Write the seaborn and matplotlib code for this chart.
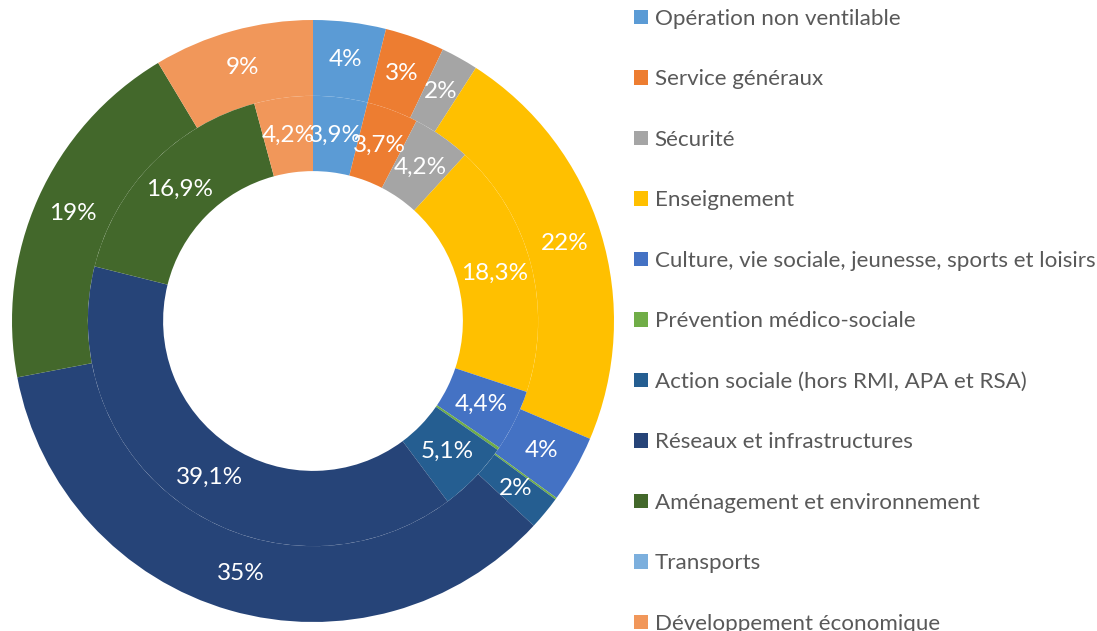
import matplotlib
matplotlib.use("Agg")
import matplotlib.pyplot as plt
import numpy as np
import seaborn as sns

# Budget categories (legend order, clockwise from 12 o'clock)
categories = [
    "Opération non ventilable",
    "Service généraux",
    "Sécurité",
    "Enseignement",
    "Culture, vie sociale, jeunesse, sports et loisirs",
    "Prévention médico-sociale",
    "Action sociale (hors RMI, APA et RSA)",
    "Réseaux et infrastructures",
    "Aménagement et environnement",
    "Transports",
    "Développement économique",
]

# Outer ring shares (%)
outer_values = [3.9, 3.2, 2.0, 22.3, 3.6, 0.1, 1.8, 35.1, 19.4, 0.0, 8.6]
# Inner ring shares (%)
inner_values = [3.9, 3.7, 4.2, 18.3, 4.4, 0.2, 5.1, 39.1, 16.9, 0.0, 4.2]

colors = [
    "#5B9BD5", "#ED7D31", "#A5A5A5", "#FFC000", "#4472C4", "#70AD47",
    "#255E91", "#264478", "#43682B", "#7CAFDD", "#F1975A",
]

sns.set_theme(style="white")
plt.rcParams["font.family"] = ["Lato", "DejaVu Sans"]
palette = sns.color_palette(colors)

W, H = 1097, 631
fig = plt.figure(figsize=(W / 100, H / 100), dpi=100)

# Donut centre and outer radius in pixels
cx, cy, R = 313, 321, 301
ax = fig.add_axes([(cx - R) / W, (H - cy - R) / H, 2 * R / W, 2 * R / H])

R_OUT, R_MID, R_HOLE = 1.0, 0.748, 0.498

wedge_kw = dict(linewidth=0, antialiased=True)
outer_wedges, _ = ax.pie(
    outer_values, radius=R_OUT, colors=palette, startangle=90,
    counterclock=False, wedgeprops=dict(width=R_OUT - R_MID, **wedge_kw),
)
inner_wedges, _ = ax.pie(
    inner_values, radius=R_MID, colors=palette, startangle=90,
    counterclock=False, wedgeprops=dict(width=R_MID - R_HOLE, **wedge_kw),
)


def label_ring(wedges, values, r, fmt):
    for w, v in zip(wedges, values):
        if v < 0.5:
            continue
        ang = np.deg2rad((w.theta1 + w.theta2) / 2)
        ax.text(r * np.cos(ang), r * np.sin(ang), fmt(v),
                ha="center", va="center", color="white", fontsize=17.5)


label_ring(outer_wedges, outer_values, (R_OUT + R_MID) / 2,
           lambda v: f"{v:.0f}%")
label_ring(inner_wedges, inner_values, (R_MID + R_HOLE) / 2,
           lambda v: f"{v:.1f}%".replace(".", ","))

ax.set_xlim(-1, 1)
ax.set_ylim(-1, 1)
ax.set_aspect("equal")
ax.axis("off")

fig.legend(
    outer_wedges, categories,
    loc="upper left", bbox_to_anchor=(634 / W, 1 - 9 / H),
    frameon=False, fontsize=16.1, labelcolor="#595959",
    handlelength=0.62, handleheight=0.62, handletextpad=0.3,
    labelspacing=1.81, borderpad=0, borderaxespad=0,
)

fig.savefig("out.png", dpi=100, facecolor="white")
